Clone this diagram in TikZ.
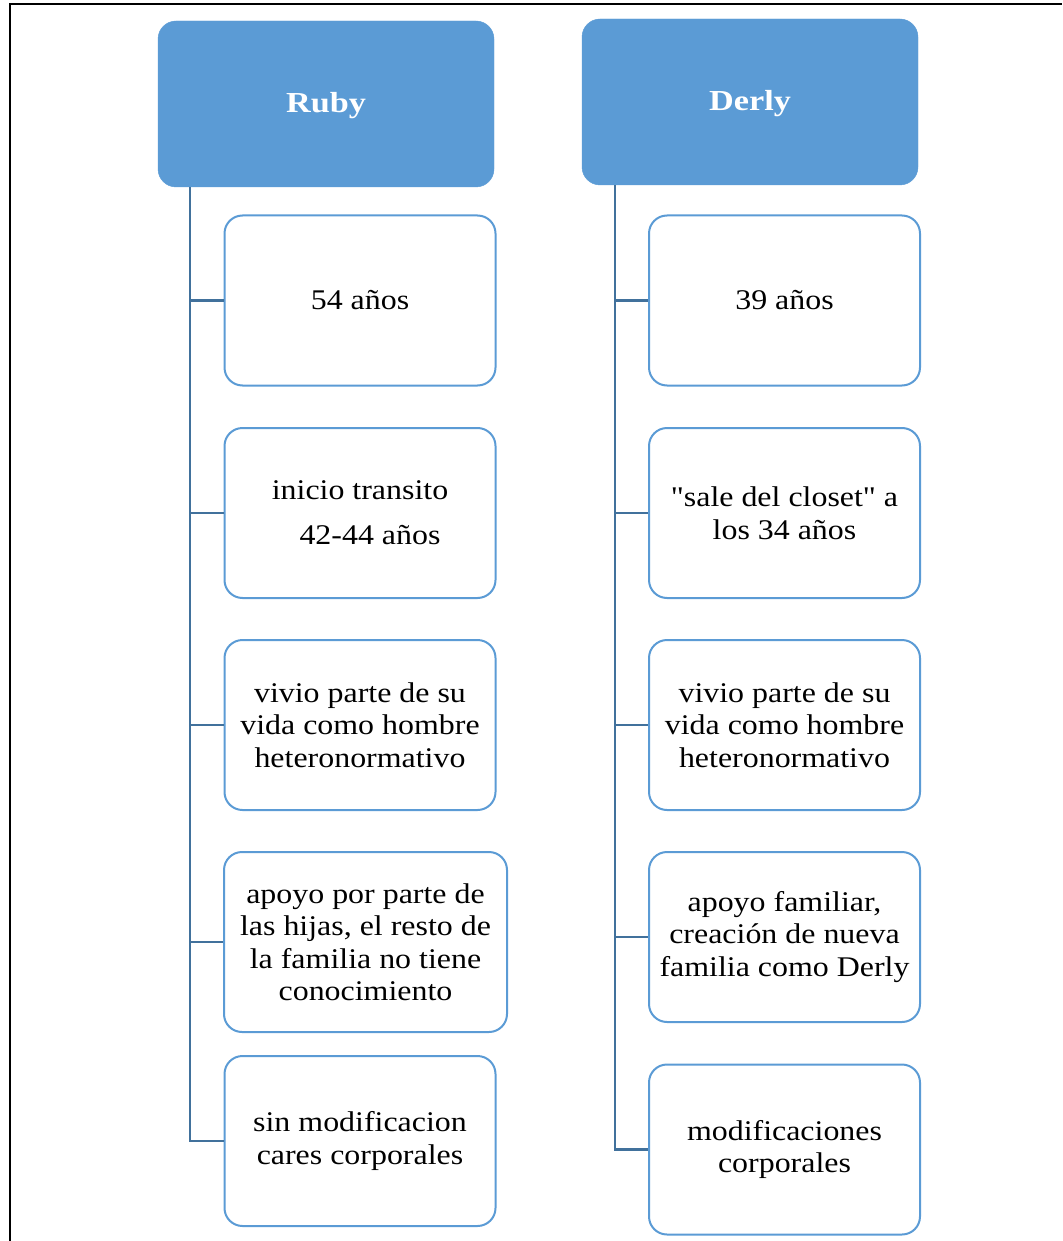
\documentclass[tikz,border=0pt]{standalone}
\usepackage{fontspec}
\setmainfont{Liberation Serif}[FakeStretch=1.12,Ligatures=TeXOff]
\definecolor{hdr}{HTML}{5B9BD5}
\definecolor{lnk}{HTML}{41719C}
\begin{document}
\begin{tikzpicture}[x=1pt,y=-1pt,
  header/.style={draw=hdr,fill=hdr,rounded corners=18pt,minimum width=336pt,minimum height=166pt,inner sep=0pt},
  htext/.style={text=white,font=\fontsize{29}{34}\selectfont\bfseries\addfontfeature{FakeStretch=1.18}},
  item/.style={draw=hdr,line width=2pt,fill=white,rounded corners=18pt,minimum width=271pt,minimum height=170pt,inner sep=0pt,align=center,font=\fontsize{28.5}{32.5}\selectfont},
  plain/.style={font=\fontsize{28.5}{32.5}\selectfont,inner sep=0pt},
  link/.style={draw=lnk,line width=2.5pt}]
\useasboundingbox (0,0) rectangle (1062,1241);
\draw[line width=2pt] (9.5,1241) -- (9.5,4) -- (1062,4);
% headers
\node[header] (ruby) at (326,104) {};
\node[header] (derly) at (750,102) {};
\node[htext] (rubyt) at (326,106) {Ruby};
\node[htext] (derlyt) at (750,104) {Derly};
% Ruby column
\node[item] (r1) at (360,300.5) {54 años};
\node[item] (r2) at (360,513) {};
\node[plain] (r2a) at (360,490) {inicio transito};
\node[plain] (r2b) at (370,535) {42-44 años};
\node[item] (r3) at (360,725) {vivio parte de su\\vida como hombre\\heteronormativo};
\node[item,minimum width=283pt,minimum height=180pt] (r4) at (365.5,942) {apoyo por parte de\\las hijas, el resto de\\la familia no tiene\\conocimiento};
\node[item] (r5) at (360,1141) {sin modificacion\\cares corporales};
% Derly column
\node[item] (d1) at (784.5,300.5) {39 años};
\node[item] (d2) at (784.5,513) {"sale del closet" a\\los 34 años};
\node[item] (d3) at (784.5,725) {vivio parte de su\\vida como hombre\\heteronormativo};
\node[item] (d4) at (784.5,937) {apoyo familiar,\\creación de nueva\\familia como Derly};
\node[item] (d5) at (784.5,1149.5) {modificaciones\\corporales};
% connectors
\coordinate (rl) at ([xshift=32pt]ruby.south west);
\coordinate (dl) at ([xshift=33pt]derly.south west);
\foreach \b in {r1,r2,r3,r4,r5} \draw[link] (rl) |- (\b.west);
\foreach \b in {d1,d2,d3,d4,d5} \draw[link] (dl) |- (\b.west);
\end{tikzpicture}
\end{document}
